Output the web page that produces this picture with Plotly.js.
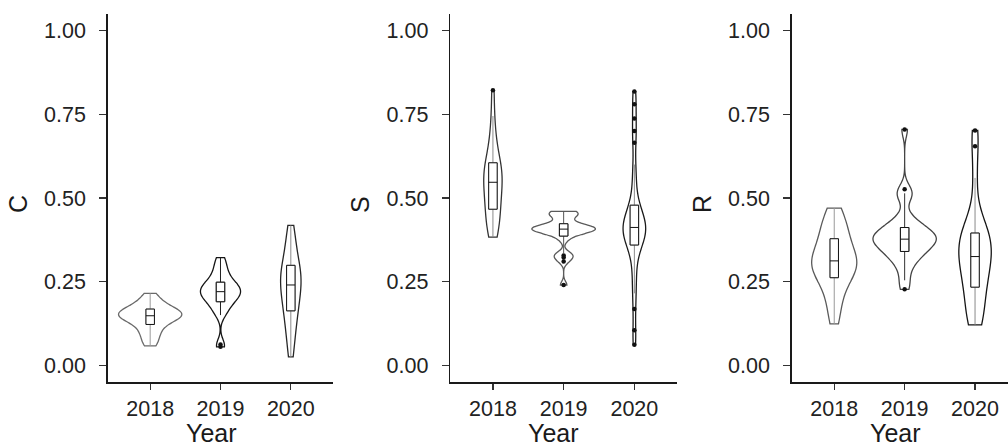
<!DOCTYPE html>
<html>
<head>
<meta charset="utf-8">
<script src="https://cdn.plot.ly/plotly-3.0.1.min.js"></script>
<style>
  html, body { margin: 0; padding: 0; background: #fff; }
  #chart { width: 1008px; height: 448px; }
</style>
</head>
<body>
<div id="chart"></div>
<script>
// Survey years (x categories) and the three strategy indices (one panel each)
const years = ['2018', '2019', '2020'];
const indices = ['C', 'S', 'R'];

// Per-plot index values, one array per year and index
const C_2018 = [0.058, 0.072, 0.085, 0.097, 0.106, 0.116, 0.124, 0.130, 0.135, 0.139, 0.142, 0.145, 0.148,
                0.151, 0.154, 0.157, 0.160, 0.163, 0.167, 0.171, 0.176, 0.182, 0.190, 0.200, 0.215];
const C_2019 = [0.055, 0.062, 0.150, 0.162, 0.174, 0.184, 0.192, 0.197, 0.202, 0.207, 0.212, 0.216, 0.220,
                0.224, 0.228, 0.233, 0.238, 0.242, 0.246, 0.255, 0.265, 0.276, 0.290, 0.305, 0.322];
const C_2020 = [0.025, 0.060, 0.090, 0.112, 0.132, 0.150, 0.167, 0.180, 0.193, 0.205, 0.218, 0.230, 0.240,
                0.250, 0.259, 0.268, 0.277, 0.286, 0.295, 0.310, 0.328, 0.347, 0.368, 0.392, 0.418];

const S_2018 = [0.383, 0.395, 0.410, 0.425, 0.440, 0.456, 0.470, 0.483, 0.495, 0.508, 0.520, 0.534, 0.547,
                0.556, 0.565, 0.574, 0.583, 0.592, 0.601, 0.618, 0.638, 0.662, 0.695, 0.745, 0.822];
const S_2019 = [0.240, 0.310, 0.322, 0.328, 0.335, 0.375, 0.390, 0.394, 0.398, 0.401, 0.403, 0.405, 0.407,
                0.409, 0.411, 0.413, 0.415, 0.418, 0.420, 0.432, 0.444, 0.450, 0.455, 0.458, 0.460];
const S_2020 = [0.061, 0.105, 0.168, 0.215, 0.250, 0.285, 0.318, 0.340, 0.352, 0.362, 0.369, 0.376, 0.383,
                0.389, 0.395, 0.400, 0.404, 0.408, 0.412, 0.417, 0.422, 0.428, 0.435, 0.442, 0.450, 0.458,
                0.466, 0.473, 0.495, 0.525, 0.560, 0.600, 0.665, 0.700, 0.738, 0.780, 0.818];

const R_2018 = [0.124, 0.160, 0.190, 0.215, 0.235, 0.252, 0.265, 0.274, 0.282, 0.290, 0.298, 0.305, 0.312,
                0.320, 0.328, 0.337, 0.347, 0.360, 0.375, 0.388, 0.400, 0.415, 0.432, 0.450, 0.470];
const R_2019 = [0.227, 0.254, 0.285, 0.305, 0.318, 0.327, 0.335, 0.342, 0.349, 0.355, 0.361, 0.366, 0.370,
                0.374, 0.377, 0.381, 0.386, 0.391, 0.396, 0.401, 0.405, 0.409, 0.420, 0.432, 0.445, 0.500,
                0.514, 0.526, 0.705];
const R_2020 = [0.121, 0.125, 0.150, 0.175, 0.200, 0.220, 0.238, 0.255, 0.272, 0.288, 0.302, 0.314, 0.325,
                0.338, 0.350, 0.362, 0.372, 0.382, 0.392, 0.405, 0.425, 0.455, 0.560, 0.655, 0.702];

// Compact letter display from the post-hoc comparisons
const C_letters = ['a', 'b', 'b'];
const S_letters = ['b', 'a', 'a'];
const R_letters = ['a', 'b', 'a'];

const samples = { C: [C_2018, C_2019, C_2020], S: [S_2018, S_2019, S_2020], R: [R_2018, R_2019, R_2020] };
const letters = { C: C_letters, S: S_letters, R: R_letters };

// ---- appearance ----
const FONT = 'Liberation Sans, Arial, Helvetica, sans-serif';
const INK = '#1a1a1a';
const panelStyle = {
  C: { xdomain: [0.10714, 0.33036], xrange: [-0.6, 2.6], titleX: 0.0179, yearX: 0.210,
       violinWidth: [0.90, 0.57, 0.29], outline: ['#6a6a6a', '#151515', '#262626'],
       whisker: ['#9a9a9a', '#222222', '#8a8a8a'], letterGap: 0.008 },
  S: { xdomain: [0.44692, 0.67143], xrange: [-0.6, 2.6], titleX: 0.357, yearX: 0.549,
       violinWidth: [0.26, 0.90, 0.32], outline: ['#333333', '#5a5a5a', '#1a1a1a'],
       whisker: ['#8a8a8a', '#555555', '#8a8a8a'], letterGap: 0.026 },
  R: { xdomain: [0.78571, 1.0], xrange: [-0.6, 2.468], titleX: 0.6964, yearX: 0.888,
       violinWidth: [0.64, 0.90, 0.46], outline: ['#5a5a5a', '#444444', '#151515'],
       whisker: ['#9a9a9a', '#333333', '#8a8a8a'], letterGap: 0.032 }
};
const YDOMAIN = [0.14732, 0.96875];
const BOX_WIDTH = 0.12;
const TICK_SIZE = 21.5;

// Silverman's rule (R's bw.nrd0), the default used for ggplot-style violins
function quantile(sorted, p) {
  const h = (sorted.length - 1) * p, lo = Math.floor(h), hi = Math.ceil(h);
  return sorted[lo] + (h - lo) * (sorted[hi] - sorted[lo]);
}
function bandwidth(values) {
  const v = values.slice().sort((a, b) => a - b);
  const n = v.length;
  const mean = v.reduce((s, x) => s + x, 0) / n;
  const sd = Math.sqrt(v.reduce((s, x) => s + (x - mean) * (x - mean), 0) / (n - 1));
  const iqr = quantile(v, 0.75) - quantile(v, 0.25);
  let lo = Math.min(sd, iqr / 1.34);
  if (!(lo > 0)) lo = sd || Math.abs(v[0]) || 1;
  return 0.9 * lo * Math.pow(n, -0.2);
}

const traces = [];
const annotations = [];
const layout = {
  width: 1008, height: 448,
  margin: { l: 0, r: 0, t: 0, b: 0 },
  paper_bgcolor: '#ffffff', plot_bgcolor: '#ffffff',
  showlegend: false,
  violinmode: 'overlay', boxmode: 'overlay',
  font: { family: FONT, color: INK },
  annotations: annotations
};

indices.forEach((key, p) => {
  const st = panelStyle[key];
  const xa = 'x' + (p ? p + 1 : '');
  const ya = 'y' + (p ? p + 1 : '');
  const xName = 'xaxis' + (p ? p + 1 : '');
  const yName = 'yaxis' + (p ? p + 1 : '');

  years.forEach((yr, g) => {
    const vals = samples[key][g];
    traces.push({
      type: 'violin', x0: yr, y: vals, xaxis: xa, yaxis: ya,
      width: st.violinWidth[g], scalemode: 'width', spanmode: 'hard',
      bandwidth: bandwidth(vals),
      line: { color: st.outline[g], width: 1.3 },
      fillcolor: 'rgba(255,255,255,0)',
      points: false, box: { visible: false }, meanline: { visible: false },
      hoverinfo: 'skip'
    });
    // whiskers and outlying points
    traces.push({
      type: 'box', x0: yr, y: vals, xaxis: xa, yaxis: ya,
      width: BOX_WIDTH, whiskerwidth: 0,
      line: { color: st.whisker[g], width: 1 },
      fillcolor: '#ffffff',
      boxpoints: 'outliers', jitter: 0, pointpos: 0,
      marker: { color: '#111111', size: 4.5, line: { width: 0 } },
      hoverinfo: 'skip'
    });
    // interquartile box and median
    traces.push({
      type: 'box', x0: yr, y: vals, xaxis: xa, yaxis: ya,
      width: BOX_WIDTH, showwhiskers: false, boxpoints: false,
      line: { color: '#111111', width: 1 },
      fillcolor: '#ffffff',
      hoverinfo: 'skip'
    });
    annotations.push({
      xref: xa, yref: ya, x: yr, y: Math.max.apply(null, vals) + st.letterGap,
      yanchor: 'bottom', xanchor: 'center', showarrow: false,
      text: letters[key][g], font: { family: FONT, size: 16.5, color: '#222222' }
    });
  });

  layout[xName] = {
    domain: st.xdomain, anchor: ya, type: 'category',
    categoryorder: 'array', categoryarray: years, range: st.xrange,
    showline: true, linecolor: INK, linewidth: 1.8,
    ticks: 'outside', ticklen: 6, tickwidth: 1.2, tickcolor: '#333333',
    ticklabelshift: -5.5,
    tickfont: { family: FONT, size: TICK_SIZE, color: '#222222' },
    showgrid: false, zeroline: false, fixedrange: true
  };
  layout[yName] = {
    domain: YDOMAIN, anchor: xa, range: [-0.05, 1.05],
    tickvals: [0, 0.25, 0.5, 0.75, 1], tickformat: '.2f',
    showline: true, linecolor: INK, linewidth: 1.8,
    ticks: 'outside', ticklen: 7, tickwidth: 1.2, tickcolor: '#333333',
    ticklabelstandoff: 9, ticklabelshift: 3.5,
    tickfont: { family: FONT, size: TICK_SIZE, color: '#222222' },
    showgrid: false, zeroline: false, fixedrange: true
  };

  // axis titles
  annotations.push({
    xref: 'paper', yref: 'paper', x: st.titleX, y: 0.5446,
    xanchor: 'center', yanchor: 'middle', textangle: -90, showarrow: false,
    text: key, font: { family: FONT, size: 25, color: INK }
  });
  annotations.push({
    xref: 'paper', yref: 'paper', x: st.yearX, y: 0.0324,
    xanchor: 'center', yanchor: 'middle', showarrow: false,
    text: 'Year', font: { family: FONT, size: 25, color: INK }
  });
});

Plotly.newPlot('chart', traces, layout, { staticPlot: true, displayModeBar: false });
</script>
</body>
</html>
